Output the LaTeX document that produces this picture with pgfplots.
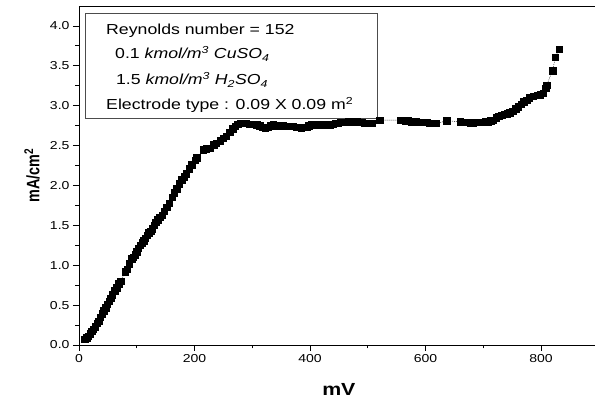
\documentclass[border=0pt]{standalone}
\usepackage{fontspec}
\setmainfont[FakeStretch=1.22]{Liberation Sans}
\newfontfamily\ylabfont[FakeStretch=0.8]{Liberation Sans}
\usepackage{pgfplots}
\pgfplotsset{compat=1.18}

\pgfplotstableread{
x y
10 0.07
13 0.09
16 0.11
19 0.14
22 0.17
25 0.20
28 0.23
31 0.27
34 0.30
37 0.35
40 0.39
43 0.43
46 0.47
49 0.51
52 0.55
55 0.59
58 0.63
62 0.68
65 0.72
69 0.77
72 0.80
80 0.92
83 0.95
87 1.02
91 1.08
94 1.10
97 1.13
100 1.17
103 1.21
106 1.25
109 1.28
112 1.31
115 1.34
118 1.38
121 1.41
124 1.43
127 1.46
130 1.50
133 1.54
136 1.57
140 1.60
144 1.63
148 1.68
152 1.73
156 1.78
161 1.85
165 1.91
169 1.96
174 2.02
178 2.07
182 2.11
186 2.15
191 2.21
195 2.26
201 2.32
204 2.35
215 2.45
220 2.46
227 2.47
233 2.51
238 2.53
244 2.56
250 2.59
255 2.62
261 2.67
266 2.71
270 2.74
275 2.77
279 2.78
284 2.78
290 2.78
295 2.77
300 2.77
304 2.77
308 2.76
313 2.75
318 2.73
322 2.72
327 2.73
332 2.75
336 2.76
341 2.75
345 2.75
350 2.75
354 2.75
359 2.74
363 2.74
367 2.74
371 2.74
376 2.73
380 2.73
385 2.72
389 2.73
394 2.73
398 2.75
403 2.76
408 2.76
412 2.77
417 2.76
421 2.76
426 2.76
430 2.76
435 2.76
440 2.77
444 2.78
449 2.78
453 2.79
458 2.79
462 2.79
467 2.80
471 2.80
476 2.80
481 2.80
485 2.79
490 2.79
495 2.78
499 2.78
504 2.78
508 2.78
521 2.82
556 2.82
561 2.82
566 2.81
570 2.81
575 2.80
579 2.80
584 2.80
589 2.79
593 2.79
598 2.79
602 2.79
606 2.78
611 2.78
615 2.78
619 2.78
637 2.81
660 2.80
664 2.79
668 2.79
673 2.79
677 2.78
682 2.78
686 2.79
691 2.79
695 2.79
700 2.79
704 2.80
709 2.80
713 2.81
717 2.82
722 2.85
727 2.87
732 2.88
737 2.89
741 2.90
746 2.91
751 2.93
756 2.96
761 2.99
766 3.02
770 3.05
775 3.07
780 3.10
786 3.12
793 3.13
799 3.14
804 3.16
808 3.22
810 3.26
820 3.44
825 3.61
831 3.71
}\datatable

\begin{document}
\begin{tikzpicture}
\begin{axis}[
  name=ax,
  scale only axis,
  width=519.75pt, height=339pt,
  xmin=0, xmax=900, ymin=0, ymax=4.25,
  axis x line*=box, axis y line*=left,
  axis line style={line width=0.8pt},
  xtick={0,200,400,600,800},
  minor xtick={100,300,500,700},
  ytick={0,0.5,1,1.5,2,2.5,3,3.5,4},
  minor ytick={0.25,0.75,1.25,1.75,2.25,2.75,3.25,3.75},
  xtick pos=bottom, ytick pos=left,
  tick align=outside,
  major tick length=6pt, minor tick length=3.5pt,
  tick style={black, line width=0.8pt},
  /pgf/number format/assume math mode=true,
  tick label style={font=\fontsize{11.5}{12}\selectfont},
  yticklabel style={/pgf/number format/.cd, fixed, fixed zerofill, precision=1},
  xticklabel style={/pgf/number format/.cd, fixed, precision=0},
  xlabel={\fontsize{17.5}{18}\selectfont\bfseries mV},
  ylabel={\ylabfont\fontsize{18}{18}\selectfont\bfseries mA/cm\textsuperscript{2}},
  xlabel style={at={(axis description cs:0.5,-0.1504)}, anchor=base},
  ylabel style={at={(axis description cs:-0.0904,0.5)}, anchor=center},
  clip=false,
]
\addplot[black, thin, dash pattern=on 1pt off 1pt, mark=square*, mark size=3.2pt,
  mark options={solid, fill=black}] table[x=x, y=y] {\datatable};
\draw[gray!60!black, line width=0.6pt] (axis cs:10.4,2.846) rectangle (axis cs:516,4.163);
\node[anchor=base west, inner sep=0pt, font=\fontsize{14.5}{15}\selectfont] at (axis cs:46.8,3.887) {Reynolds number = 152};
\node[anchor=base west, inner sep=0pt, font=\fontsize{14.5}{15}\selectfont] at (axis cs:62.3,3.586) {0.1 \textit{kmol/m\textsuperscript{3} CuSO\textsubscript{4}}};
\node[anchor=base west, inner sep=0pt, font=\fontsize{14.5}{15}\selectfont] at (axis cs:64,3.260) {1.5 \textit{kmol/m\textsuperscript{3} H\textsubscript{2}SO\textsubscript{4}}};
\node[anchor=base west, inner sep=0pt, font=\fontsize{14.5}{15}\selectfont] at (axis cs:46.8,2.947) {Electrode type : 0.09 X 0.09 m\textsuperscript{2}};
\end{axis}
\pgfresetboundingbox
\path (ax.south west) ++(-79pt,-59pt) rectangle ++(595pt,404pt);
\end{tikzpicture}
\end{document}
